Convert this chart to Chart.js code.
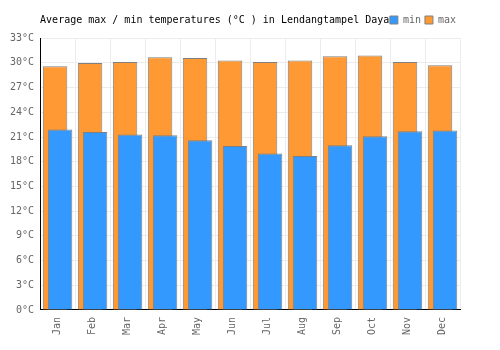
<!DOCTYPE html>
<html>
<head>
<meta charset="utf-8">
<script src="https://cdn.jsdelivr.net/npm/chart.js@4/dist/chart.umd.min.js"></script>
<style>
  html, body { margin: 0; padding: 0; background: #fff; }
  #wrap { width: 500px; height: 350px; }
</style>
</head>
<body>
<div id="wrap"><canvas id="chart"></canvas></div>
<script>
var months = ["Jan", "Feb", "Mar", "Apr", "May", "Jun", "Jul", "Aug", "Sep", "Oct", "Nov", "Dec"];
var minTemps = [21.9, 21.6, 21.3, 21.2, 20.6, 19.9, 19.0, 18.7, 20.0, 21.1, 21.7, 21.8];
var maxTemps = [29.6, 30.0, 30.1, 30.7, 30.6, 30.3, 30.1, 30.3, 30.8, 30.9, 30.1, 29.7];
var yTicks = [0, 3, 6, 9, 12, 15, 18, 21, 24, 27, 30, 33];
var chartTitle = "Average max / min temperatures (°C ) in Lendangtampel Daya";

var monoFont = '"DejaVu Sans Mono", monospace';

// the title sits on the same line as the legend, left of it
var inlineTitle = {
    id: 'inlineTitle',
    afterDraw: function(chart) {
        var box = chart.legend.legendHitBoxes[0];
        var ctx = chart.ctx;
        ctx.save();
        ctx.font = '10px ' + monoFont;
        ctx.fillStyle = '#000';
        ctx.textBaseline = 'middle';
        ctx.textAlign = 'left';
        ctx.fillText(chartTitle, chart.chartArea.left, box.top + box.height / 2);
        ctx.restore();
    }
};

// max bars sit on the left of each group but min bars are painted over them
var minOnTop = {
    id: 'minOnTop',
    beforeDatasetDraw: function(chart, args) {
        if (args.index === 0) return false;
    },
    afterDatasetDraw: function(chart, args) {
        if (args.index === 1) chart.getDatasetMeta(0).controller.draw();
    }
};

var ctx = document.getElementById("chart");

var chartGraph = new Chart(ctx, {
    type: 'bar',
    data: {
        labels: months,
        datasets: [{
            label: 'min',
            data: minTemps,
            order: 1,
            backgroundColor: 'rgb(51, 153, 255)',
            borderColor: 'rgb(128, 128, 128)',
            borderWidth: 1
        }, {
            label: 'max',
            data: maxTemps,
            order: 0,
            backgroundColor: 'rgb(255, 153, 51)',
            borderColor: 'rgb(128, 128, 128)',
            borderWidth: 1
        }]
    },
    plugins: [inlineTitle, minOnTop],
    options: {
        responsive: true,
        maintainAspectRatio: false,
        animation: false,
        categoryPercentage: 0.2857,
        barPercentage: 4.9,
        layout: {
            padding: { top: 11, right: 40, bottom: 8, left: 4 }
        },
        scales: {
            x: {
                grid: { color: '#ececec', drawTicks: false },
                border: { color: '#000', width: 1 },
                ticks: {
                    color: '#666',
                    font: { family: monoFont, size: 10 },
                    minRotation: 90,
                    maxRotation: 90,
                    padding: 7
                }
            },
            y: {
                min: 0,
                max: 33,
                grid: { color: '#ececec', drawTicks: false },
                border: { color: '#000', width: 1 },
                afterBuildTicks: function(axis) {
                    axis.ticks = yTicks.map(function(v) { return { value: v }; });
                },
                ticks: {
                    color: '#666',
                    font: { family: monoFont, size: 10 },
                    padding: 6,
                    callback: function(value) {
                        return value + '°C';
                    }
                }
            }
        },
        plugins: {
            // empty title used only as a gap under the legend row
            title: {
                display: true,
                text: '',
                weight: 500,
                font: { size: 1 },
                padding: { top: 0, bottom: 2 }
            },
            tooltip: { enabled: false },
            legend: {
                position: 'top',
                align: 'end',
                labels: {
                    boxWidth: 8,
                    boxHeight: 8,
                    padding: 4,
                    color: '#666',
                    font: { family: monoFont, size: 10 },
                    sort: function(a, b) { return a.datasetIndex - b.datasetIndex; }
                }
            }
        }
    }
});
</script>
</body>
</html>
